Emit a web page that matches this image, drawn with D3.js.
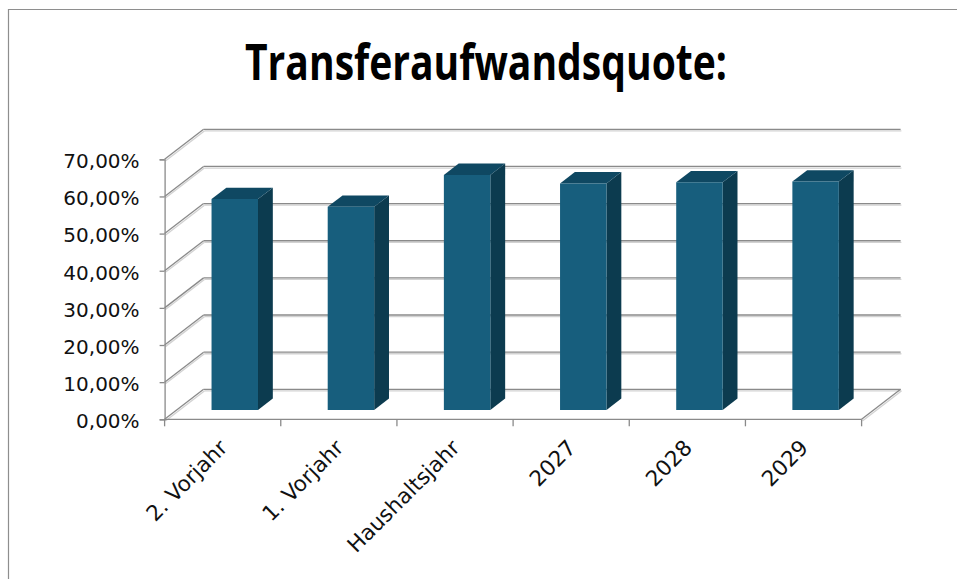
<!DOCTYPE html>
<html>
<head>
<meta charset="utf-8">
<script src="https://cdn.jsdelivr.net/npm/d3@7"></script>
<style>
  html, body { margin: 0; padding: 0; background: #fff; }
  svg { display: block; }
</style>
</head>
<body>
<figure id="chart" style="margin:0"></figure>
<script>
const chartTitle = "Transferaufwandsquote:";
const categories = ["2. Vorjahr", "1. Vorjahr", "Haushaltsjahr", "2027", "2028", "2029"];
const quota = [0.568, 0.547, 0.633, 0.610, 0.613, 0.615];
const yTicks = [0, 0.1, 0.2, 0.3, 0.4, 0.5, 0.6, 0.7];

const width = 957, height = 579;
const depth = { dx: 39, dy: -30 };   // offset from front plane to back wall
const barFront = 0.31, barBack = 0.69; // bar position inside the depth

const de = d3.formatLocale({ decimal: ",", thousands: ".", grouping: [3], currency: ["", " €"] });
const pct = de.format(".2%");

const svg = d3.select("#chart").append("svg")
  .attr("width", width)
  .attr("height", height);

// outer frame (only top and left edge are visible)
svg.append("path")
  .attr("d", `M8.5,${height} V9.5 H${width}`)
  .attr("fill", "none")
  .attr("stroke", "#8e8e8e")
  .attr("stroke-width", 1.2);

// title: no Calibri here, so squeeze a bold sans to the original width
svg.append("text")
  .attr("x", 245)
  .attr("y", 80)
  .attr("textLength", 482)
  .attr("lengthAdjust", "spacingAndGlyphs")
  .style("font-family", "'Open Sans', 'Noto Sans', sans-serif")
  .style("font-weight", "bold")
  .style("font-size", "51px")
  .attr("fill", "#000")
  .text(chartTitle);

const x = d3.scaleBand()
  .domain(categories)
  .range([164.6, 861.6])
  .padding(0);

const y = d3.scaleLinear()
  .domain([0, 0.7])
  .range([419.3, 159.3]);

const x0 = x.range()[0], x1 = x.range()[1];
const proj = (px, v, z) => [px + z * depth.dx, y(v) + z * depth.dy];

// grid: back wall + left side wall, with a soft shadow like Excel
const gridLines = [];
yTicks.forEach(t => {
  gridLines.push([proj(x0, t, 1), proj(x1, t, 1)]);
  gridLines.push([proj(x0, t, 0), proj(x0, t, 1)]);
});
// floor right edge
gridLines.push([proj(x1, 0, 0), proj(x1, 0, 1)]);

const grid = svg.append("g");
grid.selectAll("line.shadow")
  .data(gridLines)
  .enter().append("line")
  .attr("class", "shadow")
  .attr("x1", d => d[0][0] + 0.8).attr("y1", d => d[0][1] + 1.6)
  .attr("x2", d => d[1][0] + 0.8).attr("y2", d => d[1][1] + 1.6)
  .attr("stroke", "#d2d2d2")
  .attr("stroke-width", 1.3);
grid.selectAll("line.main")
  .data(gridLines)
  .enter().append("line")
  .attr("class", "main")
  .attr("x1", d => d[0][0]).attr("y1", d => d[0][1])
  .attr("x2", d => d[1][0]).attr("y2", d => d[1][1])
  .attr("stroke", "#8a8a8a")
  .attr("stroke-width", 1.3);

// Y axis (front left edge)
const yAxis = svg.append("g")
  .attr("transform", `translate(${x0},0)`)
  .call(d3.axisLeft(y).tickValues(yTicks).tickFormat(pct).tickSize(5).tickPadding(20));
yAxis.select(".domain").attr("stroke", "#8a8a8a").attr("stroke-width", 1.3);
yAxis.selectAll(".tick line").attr("stroke", "#8a8a8a").attr("stroke-width", 1.3);
yAxis.selectAll(".tick text")
  .attr("dy", "0.42em")
  .attr("fill", "#111")
  .style("font-family", "'DejaVu Sans', sans-serif")
  .style("font-size", "20px");

// X axis (front floor edge) with ticks between categories
const xAxis = svg.append("g");
xAxis.append("line")
  .attr("x1", x0).attr("x2", x1)
  .attr("y1", y(0)).attr("y2", y(0))
  .attr("stroke", "#8a8a8a").attr("stroke-width", 1.3);
const bounds = categories.map(c => x(c)).concat([x1]);
xAxis.selectAll("line.tick")
  .data(bounds)
  .enter().append("line")
  .attr("class", "tick")
  .attr("x1", d => d).attr("x2", d => d)
  .attr("y1", y(0)).attr("y2", y(0) + 7)
  .attr("stroke", "#8a8a8a").attr("stroke-width", 1.3);
xAxis.selectAll("text")
  .data(categories)
  .enter().append("text")
  .attr("transform", d => `translate(${x(d) + x.bandwidth() / 2 + 6},449) rotate(-45)`)
  .attr("text-anchor", "end")
  .attr("fill", "#111")
  .style("font-family", "'DejaVu Sans', sans-serif")
  .style("font-size", "21.5px")
  .text(d => d);

// 3D columns
const barW = x.bandwidth() * 0.4;
const bars = svg.selectAll("g.bar")
  .data(categories.map((c, i) => ({ cat: c, value: quota[i] })))
  .enter().append("g")
  .attr("class", "bar");

const left = d => x(d.cat) + x.bandwidth() / 2 - barW / 2;
const right = d => left(d) + barW;
const pts = arr => arr.map(p => p.join(",")).join(" ");

bars.append("polygon")
  .attr("points", d => pts([
    proj(right(d), d.value, barFront), proj(right(d), 0, barFront),
    proj(right(d), 0, barBack), proj(right(d), d.value, barBack)]))
  .attr("fill", "#0c3b4f");

bars.append("polygon")
  .attr("points", d => pts([
    proj(left(d), d.value, barFront), proj(right(d), d.value, barFront),
    proj(right(d), d.value, barBack), proj(left(d), d.value, barBack)]))
  .attr("fill", "#0f4862");

bars.append("polygon")
  .attr("points", d => pts([
    proj(left(d), d.value, barFront), proj(right(d), d.value, barFront),
    proj(right(d), 0, barFront), proj(left(d), 0, barFront)]))
  .attr("fill", "#175e7d");
</script>
</body>
</html>
